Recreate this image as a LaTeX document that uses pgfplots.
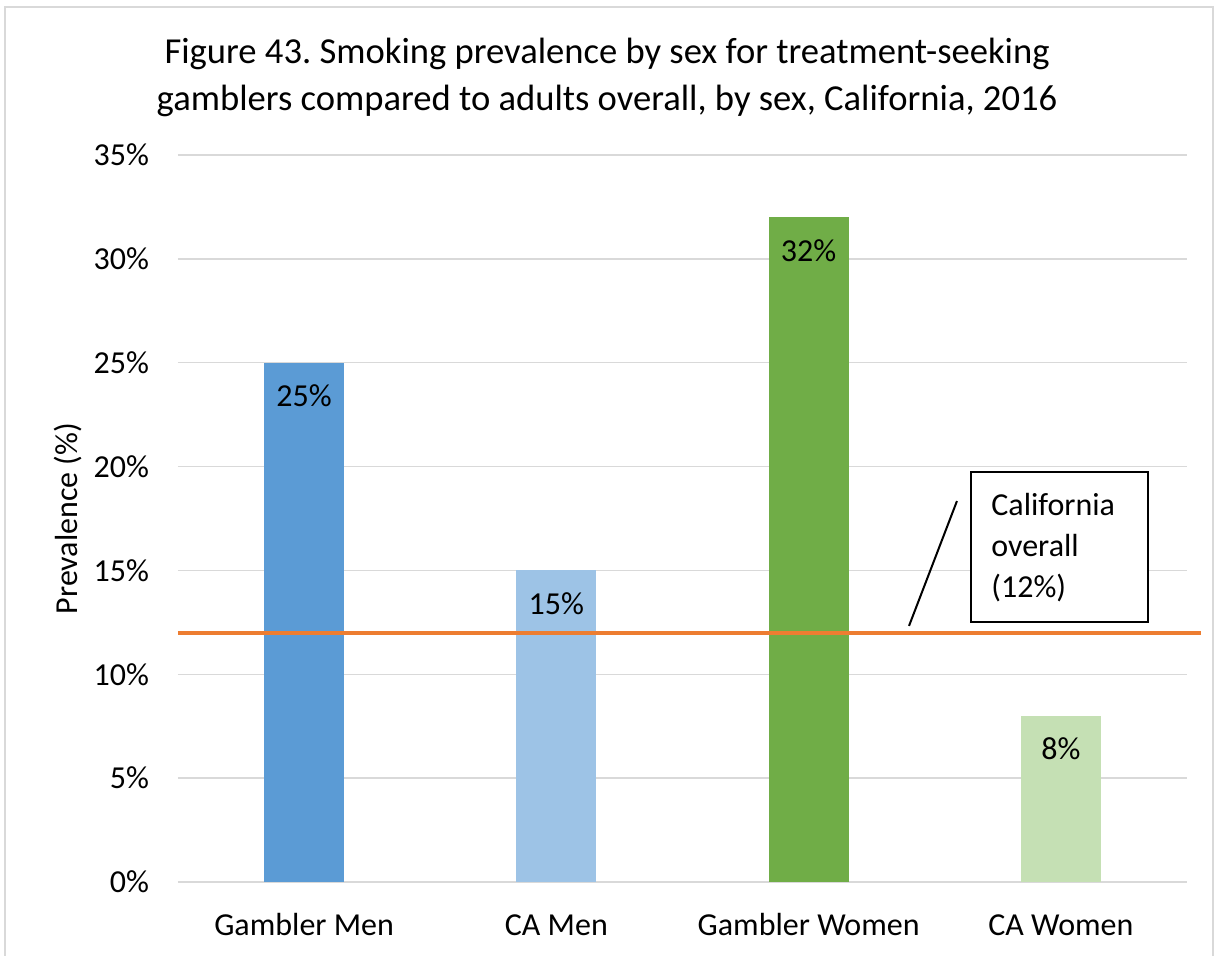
\documentclass[border=0pt]{standalone}
\usepackage{pgfplots}
\pgfplotsset{compat=1.18}
\usepackage{fontspec}
\setmainfont{Carlito}
\frenchspacing
\definecolor{barA}{HTML}{5B9BD5}
\definecolor{barB}{HTML}{9DC3E6}
\definecolor{barC}{HTML}{70AD47}
\definecolor{barD}{HTML}{C5E0B4}
\definecolor{lineO}{HTML}{ED7D31}
\definecolor{gridG}{HTML}{D9D9D9}
\begin{document}
\begin{tikzpicture}[x=0.5pt,y=0.5pt]
\begin{axis}[
  at={(0,0)}, anchor=south west,
  scale only axis,
  width=504.5pt, height=363.5pt,
  ybar, bar width=0.317, bar shift=0pt,
  xmin=-0.5, xmax=3.5,
  ymin=0, ymax=35,
  xtick={0,1,2,3},
  xticklabels={Gambler Men, CA Men, Gambler Women, CA Women},
  ytick={0,5,...,35},
  yticklabel={\pgfmathprintnumber[fixed,precision=0]{\tick}\%},
  /pgf/number format/assume math mode=true,
  ymajorgrids,
  major grid style={gridG, line width=0.75pt},
  axis line style={draw=none},
  major tick length=0pt,
  tick label style={font=\fontsize{16}{19}\selectfont},
  y tick label style={xshift=-11pt},
  x tick label style={yshift=-11.5pt, text height=11.5pt, text depth=3.5pt},
  ylabel={Prevalence (\%)},
  ylabel style={font=\fontsize{16}{19}\selectfont, yshift=-1pt},
  nodes near coords={\pgfmathprintnumber[fixed,precision=0]{\pgfplotspointmeta}\%},
  nodes near coords style={anchor=center, yshift=-16.5pt, font=\fontsize{16}{19}\selectfont, text=black},
  clip=false,
]
\addplot[fill=barA, draw=none] coordinates {(0,25)};
\addplot[fill=barB, draw=none] coordinates {(1,15)};
\addplot[fill=barC, draw=none] coordinates {(2,32)};
\addplot[fill=barD, draw=none] coordinates {(3,8)};
\addplot[sharp plot, lineO, line width=2pt, nodes near coords={}] coordinates {(-0.5,12) (3.555,12)};
\draw[black, line width=1pt] (axis cs:2.398,12.33) -- (axis cs:2.588,18.34);
\draw[black, line width=1.2pt, fill=white] (axis cs:2.644,12.52) rectangle (axis cs:3.345,19.74);
\node[anchor=north west, align=left, font=\fontsize{16}{20.5}\selectfont, inner sep=0pt]
  at (axis cs:2.723,18.75) {California\\overall\\(12\%)};
\end{axis}
% title
\node[align=center, font=\fontsize{18.3}{23.5}\selectfont] at (429,805) {Figure 43. Smoking prevalence by sex for treatment-seeking\\gamblers compared to adults overall, by sex, California, 2016};
% chart frame
\draw[gridG, line width=1pt] (-173,-90) -- (-173,875) -- (1035,875) -- (1035,-90);
\pgfresetboundingbox
\path[use as bounding box] (-178,-73) rectangle (1042,882);
\end{tikzpicture}
\end{document}
